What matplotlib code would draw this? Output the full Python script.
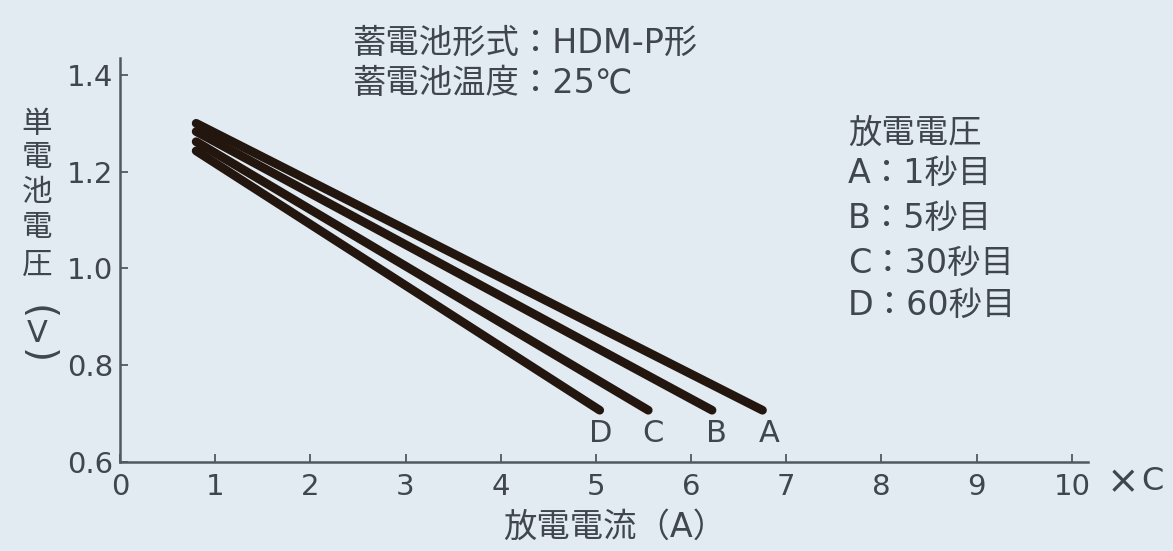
import matplotlib.pyplot as plt
import numpy as np

plt.rcParams['font.family'] = ['DejaVu Sans', 'Noto Sans CJK JP']

# discharge current (x C) and cell voltage at start / end of each curve
series = ['A', 'B', 'C', 'D']
x_start = [0.8, 0.8, 0.8, 0.8]
v_start = [1.300, 1.283, 1.262, 1.243]
x_end = [6.75, 6.22, 5.55, 5.04]
v_end = [0.707, 0.707, 0.707, 0.707]
label_x = [6.82, 6.27, 5.60, 5.05]

legend_lines = ['放電電圧', 'A：1秒目', 'B：5秒目', 'C：30秒目', 'D：60秒目']
xticks = list(range(0, 11))
yticks = [0.6, 0.8, 1.0, 1.2, 1.4]
ylab_chars = ['単', '電', '池', '電', '圧']

bg = '#e2eaf2'
tc = '#3f464d'
W, H = 1173, 551

fig = plt.figure(figsize=(W / 100, H / 100), dpi=100, facecolor=bg)
ax = fig.add_axes([120 / W, 1 - 462 / H, (1088 - 120) / W, (462 - 58) / H])
ax.set_facecolor(bg)

for i in range(len(series)):
    ax.plot([x_start[i], x_end[i]], [v_start[i], v_end[i]],
            color='#22160f', lw=6.3, solid_capstyle='round')
    ax.text(label_x[i], 0.658, series[i], fontsize=22, color=tc,
            ha='center', va='center')

ax.set_xlim(0, 10.17)
ax.set_ylim(0.6, 1.435)
ax.set_xticks(xticks)
ax.set_yticks(yticks)
ax.set_xticklabels([str(t) for t in xticks])
ax.set_yticklabels(['%.1f' % t for t in yticks])
for s in ['top', 'right']:
    ax.spines[s].set_visible(False)
for s in ['left', 'bottom']:
    ax.spines[s].set_color('#4f5960')
    ax.spines[s].set_linewidth(1.8)
ax.tick_params(direction='in', length=6, width=1.3, color='#4f5960',
               labelsize=21, labelcolor=tc)
ax.tick_params(axis='x', pad=8)
ax.tick_params(axis='y', pad=5)

# header
fig.text(353 / W, 1 - 43 / H, '蓄電池形式：HDM-P形', fontsize=24, color=tc,
         va='center', ha='left')
fig.text(353 / W, 1 - 83 / H, '蓄電池温度：25℃', fontsize=24, color=tc,
         va='center', ha='left')

# legend block
leg_y = [133, 173, 218, 263, 305]
for s, y in zip(legend_lines, leg_y):
    fig.text(848 / W, 1 - y / H, s, fontsize=24, color=tc, va='center', ha='left')

# vertical y label
ylab_y = [124, 157, 193, 228, 265]
for c, y in zip(ylab_chars, ylab_y):
    fig.text(37 / W, 1 - y / H, c, fontsize=22, color=tc, va='center', ha='center')
fig.text(37 / W, 1 - 313 / H, '(', fontsize=28, color=tc, va='center',
         ha='center', rotation=-90)
fig.text(37 / W, 1 - 334 / H, 'V', fontsize=22, color=tc, va='center', ha='center')
fig.text(37 / W, 1 - 357 / H, ')', fontsize=28, color=tc, va='center',
         ha='center', rotation=-90)

fig.text(503 / W, 1 - 527 / H, '放電電流（A）', fontsize=24, color=tc,
         va='center', ha='left')
fig.text(1123 / W, 1 - 482 / H, '×', fontsize=28, color=tc,
         va='center', ha='center')
fig.text(1141 / W, 1 - 482 / H, 'C', fontsize=23, color=tc,
         va='center', ha='left')

fig.savefig('out.png', dpi=100, facecolor=bg)
